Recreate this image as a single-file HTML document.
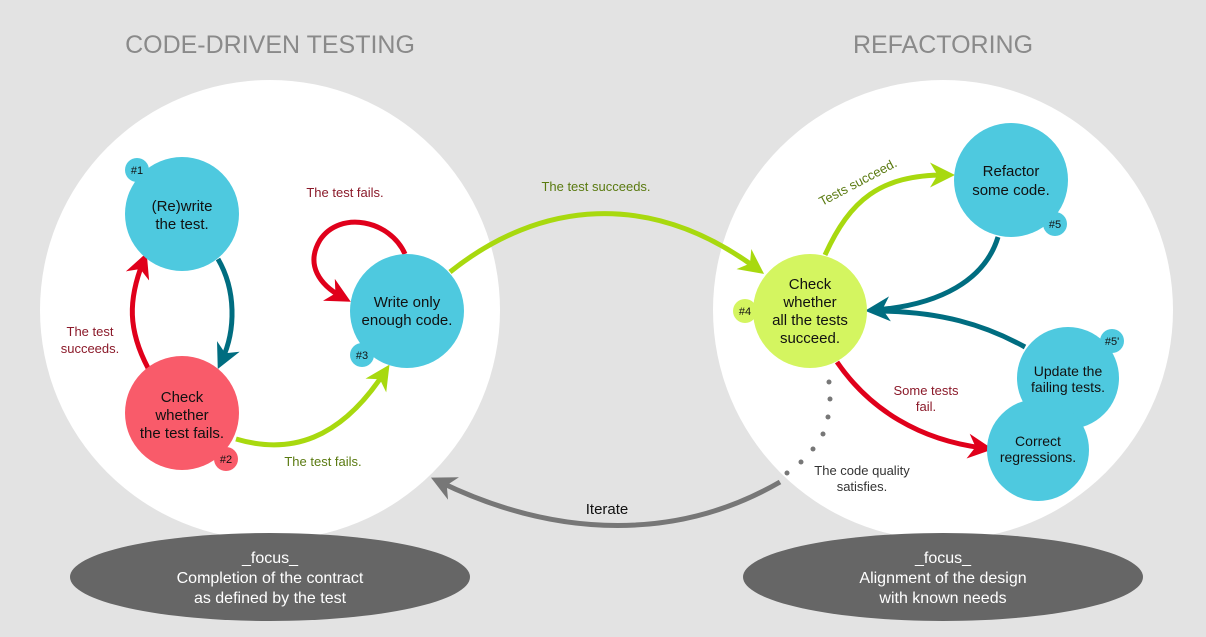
<!DOCTYPE html>
<html><head><meta charset="utf-8"><style>
body{margin:0;background:#e3e3e3;}
svg{display:block;font-family:"Liberation Sans",sans-serif;}
</style></head><body>
<svg width="1206" height="637" viewBox="0 0 1206 637">
<defs>
<marker id="mr" markerWidth="5" markerHeight="5" refX="3" refY="2.5" orient="auto"><path d="M0,0L5,2.5L0,5L1.5,2.5z" fill="#e0001b"/></marker>
<marker id="mt" markerWidth="5" markerHeight="5" refX="3" refY="2.5" orient="auto"><path d="M0,0L5,2.5L0,5L1.5,2.5z" fill="#006d80"/></marker>
<marker id="mg" markerWidth="5" markerHeight="5" refX="3" refY="2.5" orient="auto"><path d="M0,0L5,2.5L0,5L1.5,2.5z" fill="#a8d90f"/></marker>
<marker id="mk" markerWidth="5" markerHeight="5" refX="3" refY="2.5" orient="auto"><path d="M0,0L5,2.5L0,5L1.5,2.5z" fill="#777"/></marker>
</defs>
<rect width="1206" height="637" fill="#e3e3e3"/>
<text x="270" y="53" font-size="25" fill="#8a8a8a" text-anchor="middle">CODE-DRIVEN  TESTING</text>
<text x="943" y="53" font-size="25" fill="#8a8a8a" text-anchor="middle">REFACTORING</text>
<circle cx="270" cy="310" r="230" fill="#fff"/>
<circle cx="943" cy="310" r="230" fill="#fff"/>
<ellipse cx="270" cy="577" rx="200" ry="44" fill="#666"/>
<ellipse cx="943" cy="577" rx="200" ry="44" fill="#666"/>
<g fill="#fff" font-size="16" text-anchor="middle">
<text x="270" y="563">_focus_</text><text x="270" y="583">Completion of the contract</text><text x="270" y="603">as defined by the test</text>
<text x="943" y="563">_focus_</text><text x="943" y="583">Alignment of the design</text><text x="943" y="603">with known needs</text>
</g>
<!-- connectors -->
<g fill="none" stroke-width="5">
<path d="M148,368 C128,330 128,300 143,262" stroke="#e0001b" marker-end="url(#mr)"/>
<path d="M218,259 C236,290 236,330 222,360" stroke="#006d80" marker-end="url(#mt)"/>
<path d="M405,254 C390,220 340,210 320,240 C305,265 320,285 342,297" stroke="#e0001b" marker-end="url(#mr)"/>
<path d="M236,439 C290,455 340,440 384,373" stroke="#a8d90f" marker-end="url(#mg)"/>
<path d="M450,272 C540,200 650,190 756,268" stroke="#a8d90f" marker-end="url(#mg)"/>
<path d="M825,255 C850,200 880,175 945,175" stroke="#a8d90f" marker-end="url(#mg)"/>
<path d="M998,237 C985,280 940,305 875,310" stroke="#006d80" marker-end="url(#mt)"/>
<path d="M1025,347 C985,325 940,311 875,311" stroke="#006d80"/>
<path d="M837,362 C870,410 920,440 983,448" stroke="#e0001b" marker-end="url(#mr)"/>
<path d="M780,482 C680,540 560,540 440,482" stroke="#777" marker-end="url(#mk)"/>
</g>
<g fill="#777"><circle cx="829" cy="382" r="2.5"/><circle cx="830" cy="399" r="2.5"/><circle cx="828" cy="417" r="2.5"/><circle cx="823" cy="434" r="2.5"/><circle cx="813" cy="449" r="2.5"/><circle cx="801" cy="462" r="2.5"/><circle cx="787" cy="473" r="2.5"/></g>
<!-- nodes -->
<circle cx="182" cy="214" r="57" fill="#4ec9df"/><circle cx="137" cy="170" r="12" fill="#4ec9df"/>
<circle cx="182" cy="413" r="57" fill="#f95b6a"/><circle cx="226" cy="459" r="12" fill="#f95b6a"/>
<circle cx="407" cy="311" r="57" fill="#4ec9df"/><circle cx="362" cy="355" r="12" fill="#4ec9df"/>
<circle cx="810" cy="311" r="57" fill="#d4f560"/><circle cx="745" cy="311" r="12" fill="#d4f560"/>
<circle cx="1011" cy="180" r="57" fill="#4ec9df"/><circle cx="1055" cy="224" r="12" fill="#4ec9df"/>
<circle cx="1068" cy="378" r="51" fill="#4ec9df"/><circle cx="1112" cy="341" r="12" fill="#4ec9df"/>
<circle cx="1038" cy="450" r="51" fill="#4ec9df"/>
<g font-size="15" text-anchor="middle" fill="#111">
<text x="182" y="211">(Re)write</text><text x="182" y="229">the test.</text>
<text x="182" y="402">Check</text><text x="182" y="420">whether</text><text x="182" y="438">the test fails.</text>
<text x="407" y="307">Write only</text><text x="407" y="325">enough code.</text>
<text x="810" y="289">Check</text><text x="810" y="307">whether</text><text x="810" y="325">all the tests</text><text x="810" y="343">succeed.</text>
<text x="1011" y="176">Refactor</text><text x="1011" y="195">some code.</text>
<text x="1068" y="376" font-size="14">Update the</text><text x="1068" y="392" font-size="14">failing tests.</text>
<text x="1038" y="446" font-size="14">Correct</text><text x="1038" y="462" font-size="14">regressions.</text>
</g>
<g font-size="11" text-anchor="middle" fill="#111">
<text x="137" y="174">#1</text><text x="226" y="463">#2</text><text x="362" y="359">#3</text>
<text x="745" y="315">#4</text><text x="1055" y="228">#5</text><text x="1112" y="345">#5'</text>
</g>
<g font-size="13" text-anchor="middle">
<text x="345" y="197" fill="#8b1a2a">The test fails.</text>
<text x="90" y="336" fill="#8b1a2a">The test</text><text x="90" y="353" fill="#8b1a2a">succeeds.</text>
<text x="323" y="466" fill="#5a7a10">The test fails.</text>
<text x="596" y="191" fill="#5a7a10">The test succeeds.</text>
<text x="860" y="186" fill="#5a7a10" transform="rotate(-28 860 186)">Tests succeed.</text>
<text x="926" y="395" fill="#8b1a2a">Some tests</text><text x="926" y="411" fill="#8b1a2a">fail.</text>
<text x="862" y="475" fill="#333">The code quality</text><text x="862" y="491" fill="#333">satisfies.</text>
<text x="607" y="514" fill="#111" font-size="15">Iterate</text>
</g>
</svg>
</body></html>
